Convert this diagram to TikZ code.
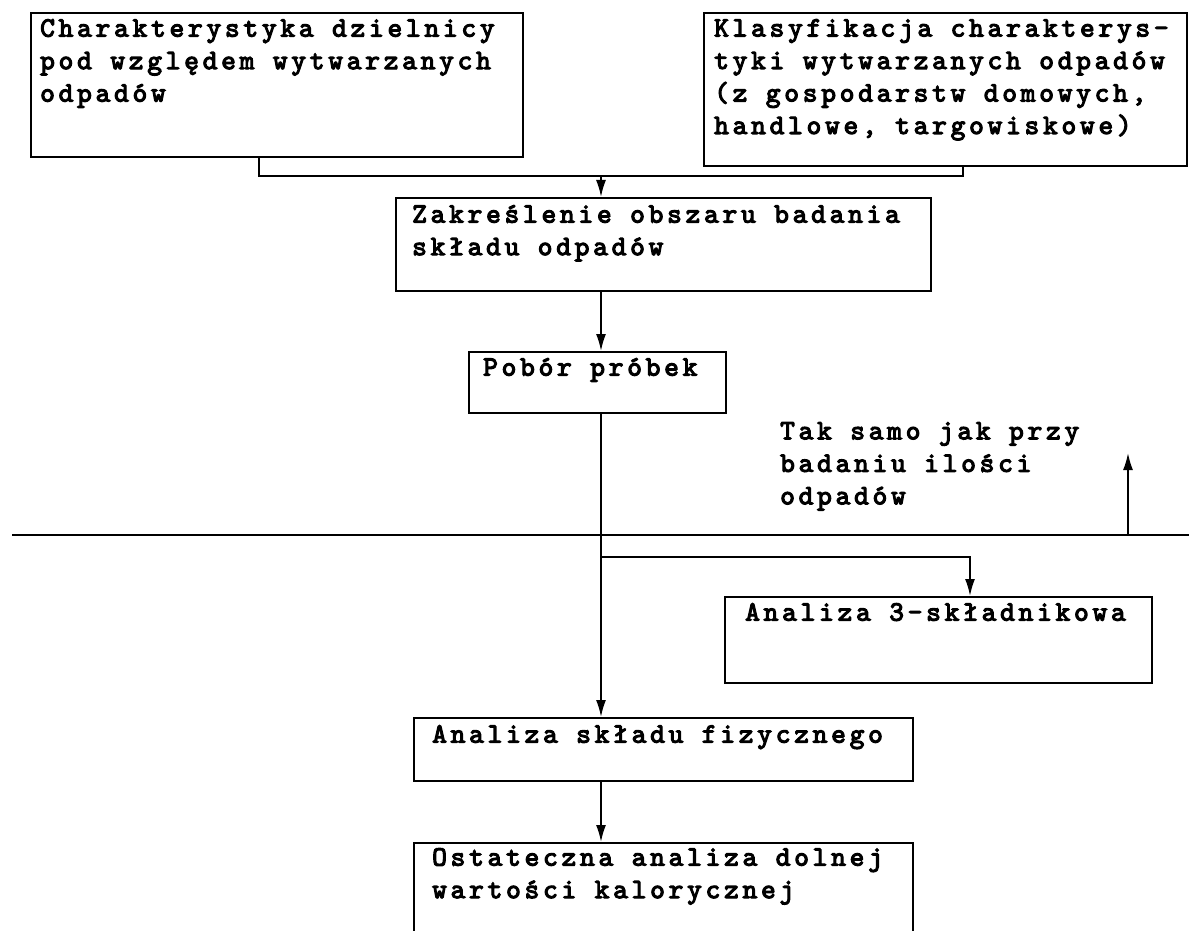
\documentclass[tikz,border=0pt]{standalone}
\usepackage{fontspec}
\newfontfamily\tw{lmmono10-regular}[Extension=.otf, FakeBold=4, LetterSpace=13.5]
\usetikzlibrary{arrows.meta}
\tikzset{
  box/.style={draw, line width=1.8pt, rectangle, inner sep=0pt, anchor=north west},
  txt/.style={inner sep=0pt, anchor=north west, align=left,
    font=\tw\fontsize{28}{32.5}\selectfont},
  conn/.style={line width=1.8pt},
  arr/.style={line width=1.8pt, -{Latex[length=17pt,width=10pt]}}
}
\begin{document}
\begin{tikzpicture}[x=1pt,y=-1pt]
\useasboundingbox (0,0) rectangle (1189,931);
\clip (0,0) rectangle (1189,931);
% boxes
\node[box, minimum width=492pt, minimum height=144pt] (b1) at (30,12) {};
\node[box, minimum width=483pt, minimum height=153pt] (b2) at (703,12) {};
\node[box, minimum width=535pt, minimum height=93pt] (b3) at (395,197) {};
\node[box, minimum width=257pt, minimum height=61pt] (b4) at (468,351) {};
\node[box, minimum width=427pt, minimum height=86pt] (b5) at (724,596) {};
\node[box, minimum width=499pt, minimum height=63pt] (b6) at (413,717) {};
\node[box, minimum width=499pt, minimum height=140pt] (b7) at (413,842) {};
% texts
\node[txt] (t1) at (40,19) {Charakterystyka dzielnicy\\pod względem wytwarzanych\\odpadów};
\node[txt] (t2) at (714,19) {Klasyfikacja charakterys-\\tyki wytwarzanych odpadów\\(z gospodarstw domowych,\\handlowe, targowiskowe)};
\node[txt] (t3) at (412,205) {Zakreślenie obszaru badania\\składu odpadów};
\node[txt] (t4) at (483,358) {Pobór próbek};
\node[txt] (t5) at (745,603) {Analiza 3-składnikowa};
\node[txt] (t6) at (432,725) {Analiza składu fizycznego};
\node[txt] (t7) at (432,848) {Ostateczna analiza dolnej\\wartości kalorycznej};
\node[txt] (t8) at (780,422) {Tak samo jak przy\\badaniu ilości\\odpadów};
% connectors
\coordinate (l1) at (259,176);
\coordinate (m1) at (601,176);
\coordinate (r1) at (963,176);
\coordinate (br) at (970,557);
\coordinate (d0) at (12,535);
\coordinate (d1) at (1189,535);
\coordinate (ua) at (1128,535);
\coordinate (ub) at (1128,453);
\draw[conn] (l1 |- b1.south) -- (l1) -- (r1) -- (r1 |- b2.south);
\draw[arr] (m1) -- (m1 |- b3.north);
\draw[arr] (m1 |- b3.south) -- (m1 |- b4.north);
\draw[arr] (m1 |- b4.south) -- (m1 |- b6.north);
\draw[arr] (m1 |- b6.south) -- (m1 |- b7.north);
\draw[arr] (m1 |- br) -- (br) -- (br |- b5.north);
\draw[conn] (d0) -- (d1);
\draw[arr] (ua) -- (ub);
\end{tikzpicture}
\end{document}
